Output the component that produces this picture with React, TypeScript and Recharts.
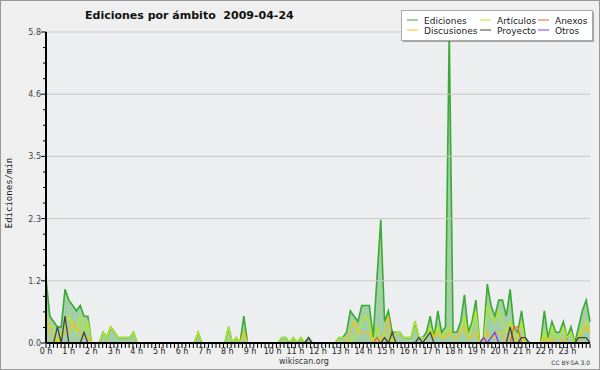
import { ComposedChart, Area, Line, XAxis, YAxis, ReferenceLine, CartesianGrid } from "recharts";

// edits per minute, one value per 10-minute slot (6 per hour, 0 h .. 23 h)
const ediciones = [
  1.2, 0.5, 0.4, 0.3, 0.3, 1.0, 0.8, 0.7, 0.6, 0.7, 0.5, 0.5, 0, 0, 0, 0.2, 0.1, 0.3, 0.2, 0.1, 0.1, 0.1, 0.1, 0.2,
  0, 0, 0, 0, 0, 0, 0, 0, 0, 0, 0, 0, 0, 0, 0, 0, 0.2, 0, 0, 0, 0, 0, 0, 0,
  0.3, 0, 0.1, 0, 0.5, 0, 0, 0, 0, 0, 0, 0, 0, 0, 0.1, 0.1, 0, 0.1, 0, 0.1, 0, 0.1, 0, 0,
  0, 0, 0, 0, 0, 0.1, 0.1, 0.2, 0.6, 0.5, 0.4, 0.7, 0.7, 0.7, 0.1, 1.2, 2.3, 0.4, 0.6, 0.2, 0.2, 0.2, 0.1, 0.1,
  0.1, 0.4, 0.1, 0.1, 0.2, 0.5, 0.1, 0.6, 0.2, 0.3, 5.8, 0.2, 0.2, 0.4, 0.9, 0.2, 0.4, 0.8, 0, 0.1, 1.1, 0.7, 0.5, 0.8,
  0.8, 0.5, 1.0, 0.3, 0.2, 0.6, 0.1, 0, 0, 0, 0, 0.6, 0.1, 0.4, 0.2, 0.2, 0.4, 0.1, 0.3, 0, 0.3, 0.6, 0.8, 0.4,
];
const articulos = [
  0.5, 0.3, 0.3, 0, 0.2, 0.3, 0.5, 0.3, 0.2, 0.5, 0.2, 0.4, 0, 0, 0, 0.2, 0.1, 0.3, 0.2, 0.1, 0.1, 0.1, 0.1, 0.2,
  0, 0, 0, 0, 0, 0, 0, 0, 0, 0, 0, 0, 0, 0, 0, 0, 0.2, 0, 0, 0, 0, 0, 0, 0,
  0.3, 0, 0.1, 0, 0.2, 0, 0, 0, 0, 0, 0, 0, 0, 0, 0.1, 0.1, 0, 0.1, 0, 0.1, 0, 0, 0, 0,
  0, 0, 0, 0, 0, 0.1, 0.1, 0.1, 0, 0.1, 0.2, 0.4, 0.5, 0.4, 0, 0.3, 0, 0.2, 0.1, 0, 0.2, 0.2, 0.1, 0.1,
  0.1, 0.4, 0.1, 0.1, 0.1, 0.3, 0.1, 0.3, 0.1, 0.2, 0.3, 0.1, 0.1, 0.2, 0.5, 0.1, 0.3, 0.6, 0, 0, 0.7, 0.5, 0.4, 0.6,
  0.4, 0.2, 0.4, 0.2, 0.1, 0.4, 0, 0, 0, 0, 0, 0.2, 0, 0.3, 0.1, 0.1, 0.3, 0.1, 0.2, 0, 0.1, 0.3, 0.4, 0.2,
];
const discusiones = [
  0.6, 0.2, 0.1, 0, 0.1, 0.2, 0.2, 0.4, 0.3, 0.2, 0.1, 0.1, 0, 0, 0, 0, 0, 0, 0, 0, 0, 0, 0, 0,
  0, 0, 0, 0, 0, 0, 0, 0, 0, 0, 0, 0, 0, 0, 0, 0, 0, 0, 0, 0, 0, 0, 0, 0,
  0, 0, 0, 0, 0.2, 0, 0, 0, 0, 0, 0, 0, 0, 0, 0, 0, 0, 0, 0, 0, 0, 0, 0, 0,
  0, 0, 0, 0, 0, 0, 0, 0, 0.2, 0.4, 0.2, 0.2, 0.2, 0.2, 0, 0, 0, 0.2, 0.5, 0, 0, 0, 0, 0,
  0, 0, 0, 0, 0.1, 0.2, 0.1, 0.2, 0.1, 0.1, 0.2, 0.1, 0.1, 0.2, 0.3, 0.1, 0.1, 0.2, 0, 0, 0.2, 0.1, 0.1, 0.2,
  0.2, 0, 0.3, 0.1, 0, 0.1, 0, 0, 0, 0, 0, 0.1, 0, 0.1, 0, 0, 0.1, 0, 0, 0, 0, 0.2, 0.3, 0.2,
];
const proyecto = [
  0, 0, 0, 0.3, 0, 0.5, 0, 0, 0, 0, 0.2, 0, 0, 0, 0, 0, 0, 0, 0, 0, 0, 0, 0, 0,
  0, 0, 0, 0, 0, 0, 0, 0, 0, 0, 0, 0, 0, 0, 0, 0, 0, 0, 0, 0, 0, 0, 0, 0,
  0, 0, 0, 0, 0, 0, 0, 0, 0, 0, 0, 0, 0, 0, 0, 0, 0, 0, 0, 0, 0, 0.1, 0, 0,
  0, 0, 0, 0, 0, 0, 0, 0, 0, 0, 0, 0, 0, 0, 0, 0, 0, 0.1, 0, 0.2, 0, 0, 0, 0,
  0, 0, 0.1, 0, 0.1, 0.2, 0, 0, 0, 0, 0, 0, 0, 0, 0, 0, 0, 0, 0, 0, 0, 0, 0, 0,
  0, 0, 0.3, 0, 0, 0.1, 0.1, 0, 0, 0, 0, 0, 0, 0, 0, 0, 0, 0, 0, 0, 0.1, 0.1, 0.1, 0,
];
const anexos = [
  ...Array(87).fill(0), 0.1, 0, 0, 0, 0, 0, 0, 0, 0, 0, 0, 0, 0, 0, 0, 0, 0, 0, 0, 0, 0, 0, 0, 0, 0, 0, 0, 0, 0, 0, 0, 0, 0, 0, 0, 0,
  0.3, 0.3, ...Array(21).fill(0),
];
const otros = [...Array(115).fill(0), 0.1, 0, 0.1, 0.2, ...Array(25).fill(0)];

const yMajor = [0, 1.16, 2.32, 3.48, 4.64, 5.8];
const yLabels = ["0.0", "1.2", "2.3", "3.5", "4.6", "5.8"];

const W = 600;
const H = 370;
const M = { top: 32, right: 10, bottom: 7, left: 6 };
const Y_W = 40;
const X_H = 20;
const PLOT_L = M.left + Y_W;
const PLOT_B = H - M.bottom - X_H;

const data = ediciones.map((v, i) => ({
  i,
  ediciones: v,
  articulos: articulos[i],
  discusiones: discusiones[i],
  proyecto: proyecto[i],
  anexos: anexos[i],
  otros: otros[i],
}));

const xTicks = Array.from({ length: 145 }, (_, k) => (k * 143) / 144);
const yTicks = Array.from({ length: 21 }, (_, k) => (k * 5.8) / 20);

const font = "DejaVu Sans, Verdana, sans-serif";

const XTick = (props: any) => {
  const { x, index } = props;
  const major = index % 6 === 0 && index < 144;
  return (
    <g>
      <line x1={x} x2={x} y1={PLOT_B + 1} y2={PLOT_B + 5} stroke="#000" strokeWidth={1} />
      {major && (
        <text x={x} y={PLOT_B + 11} textAnchor="middle" fontSize={8} fontFamily={font} fill="#222">
          {index / 6} h
        </text>
      )}
    </g>
  );
};

const YTick = (props: any) => {
  const { y, index } = props;
  const major = index % 4 === 0;
  return (
    <g>
      <line x1={PLOT_L - (major ? 5 : 3)} x2={PLOT_L} y1={y} y2={y} stroke="#000" strokeWidth={1} />
      {major && (
        <text x={PLOT_L - 5} y={y + 3} textAnchor="end" fontSize={8} fontFamily={font} fill="#444">
          {yLabels[index / 4]}
        </text>
      )}
    </g>
  );
};

const legendItems = [
  { name: "Ediciones", color: "#3aaa35", col: 0, row: 0 },
  { name: "Discusiones", color: "#f2c01e", col: 0, row: 1 },
  { name: "Artículos", color: "#b8ea1c", col: 1, row: 0 },
  { name: "Proyecto", color: "#444444", col: 1, row: 1 },
  { name: "Anexos", color: "#f06a2a", col: 2, row: 0 },
  { name: "Otros", color: "#8a3ae6", col: 2, row: 1 },
];
const colX = [407, 480, 538];

export default function App() {
  return (
    <div style={{ position: "absolute", left: 0, top: 0, width: W, height: H, background: "#efefef", boxSizing: "border-box", border: "1px solid #9a9a9a" }}>
      <div style={{ position: "absolute", left: -1, top: -1 }}>
        <ComposedChart width={W} height={H} data={data} margin={M}>
          <CartesianGrid horizontal={false} vertical={false} fill="#eceef0" />
          {yMajor.slice(1).map((v) => (
            <ReferenceLine key={v} y={v} stroke="#c9c9c9" strokeWidth={1} />
          ))}
          <XAxis
            dataKey="i"
            type="number"
            domain={[0, 143]}
            ticks={xTicks}
            interval={0}
            height={X_H}
            tick={<XTick />}
            tickLine={false}
            axisLine={{ stroke: "#000", strokeWidth: 2 }}
          />
          <YAxis
            type="number"
            domain={[0, 5.8]}
            ticks={yTicks}
            interval={0}
            width={Y_W}
            tick={<YTick />}
            tickLine={false}
            axisLine={{ stroke: "#000", strokeWidth: 2 }}
          />
          <Area
            type="linear"
            dataKey="ediciones"
            stroke="#3aaa35"
            strokeWidth={1.6}
            fill="#4aa84a"
            fillOpacity={0.45}
            dot={false}
            isAnimationActive={false}
          />
          <Line type="linear" dataKey="articulos" stroke="#b8ea1c" strokeWidth={1.3} dot={false} isAnimationActive={false} />
          <Line type="linear" dataKey="discusiones" stroke="#f2c01e" strokeWidth={1.3} dot={false} isAnimationActive={false} />
          <Line type="linear" dataKey="anexos" stroke="#f06a2a" strokeWidth={1.3} dot={false} isAnimationActive={false} />
          <Line type="linear" dataKey="proyecto" stroke="#444444" strokeWidth={1.3} dot={false} isAnimationActive={false} />
          <Line type="linear" dataKey="otros" stroke="#8a3ae6" strokeWidth={1.3} dot={false} isAnimationActive={false} />
        </ComposedChart>
      </div>
      <svg width={W} height={H} style={{ position: "absolute", left: -1, top: -1, pointerEvents: "none" }}>
        <text x={85} y={19} fontSize={11} fontWeight="bold" fontFamily={font} fill="#111">
          {"Ediciones por ámbito\u00a0\u00a02009-04-24"}
        </text>
        <text
          x={12}
          y={193}
          transform="rotate(-90 12 193)"
          textAnchor="middle"
          fontSize={9}
          fontFamily="DejaVu Sans Mono, monospace"
          fill="#111"
        >
          Ediciones/min
        </text>
        <rect x={403} y={12} width={191} height={30} fill="#555" opacity={0.5} />
        <rect x={401.5} y={10.5} width={191} height={30} fill="#fff" stroke="#aaa" />
        {legendItems.map((it) => (
          <g key={it.name}>
            <line
              x1={colX[it.col]}
              x2={colX[it.col] + 11}
              y1={20 + it.row * 10}
              y2={20 + it.row * 10}
              stroke={it.color}
              strokeWidth={1}
            />
            <text x={colX[it.col] + 17} y={23.5 + it.row * 10} fontSize={9} fontFamily={font} fill="#222">
              {it.name}
            </text>
          </g>
        ))}
        <text x={304} y={364} textAnchor="middle" fontSize={8} fontFamily={font} fill="#333">
          wikiscan.org
        </text>
        <text x={590} y={365} textAnchor="end" fontSize={6} fontFamily={font} fill="#333">
          CC BY-SA 3.0
        </text>
      </svg>
    </div>
  );
}
